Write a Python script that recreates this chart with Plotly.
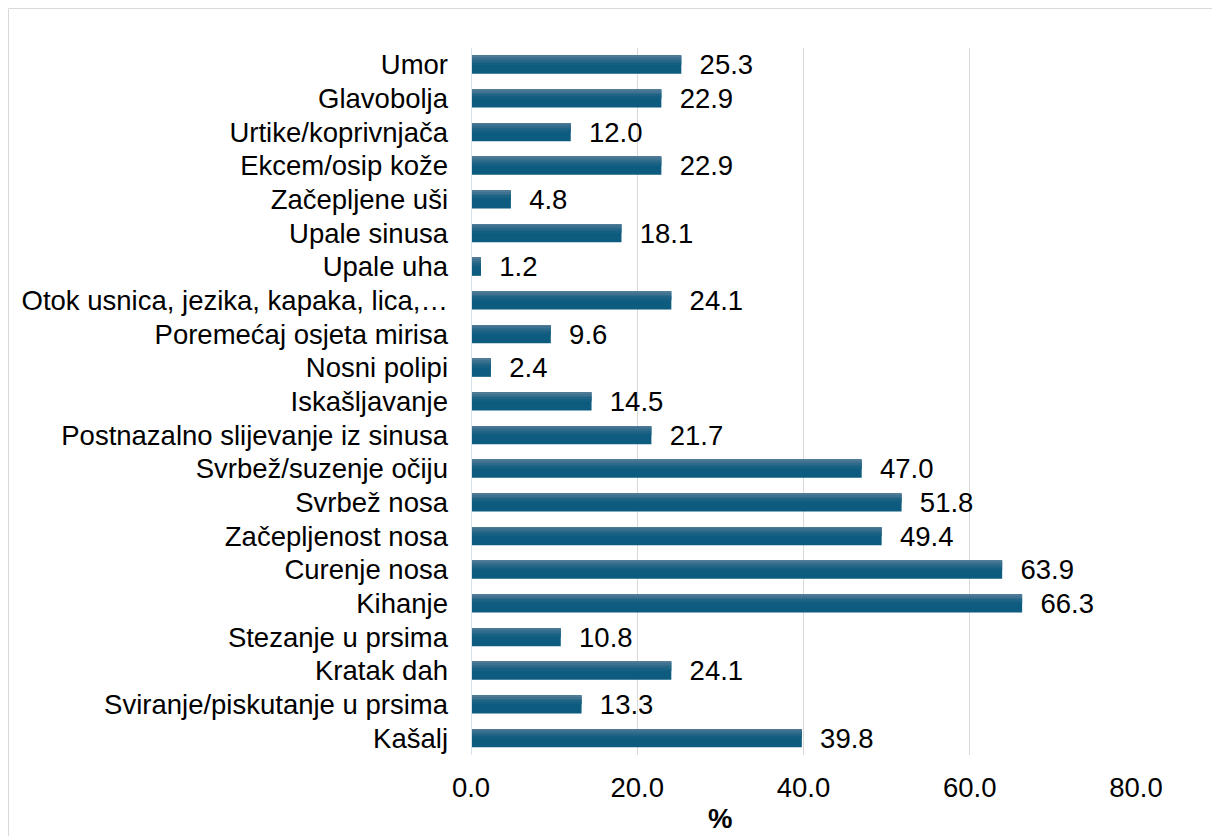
import plotly.graph_objects as go

categories = [
    "Umor", "Glavobolja", "Urtike/koprivnjača", "Ekcem/osip kože", "Začepljene uši",
    "Upale sinusa", "Upale uha", "Otok usnica, jezika, kapaka, lica,…",
    "Poremećaj osjeta mirisa", "Nosni polipi", "Iskašljavanje",
    "Postnazalno slijevanje iz sinusa", "Svrbež/suzenje očiju", "Svrbež nosa",
    "Začepljenost nosa", "Curenje nosa", "Kihanje", "Stezanje u prsima",
    "Kratak dah", "Sviranje/piskutanje u prsima", "Kašalj",
]
values = [25.3, 22.9, 12.0, 22.9, 4.8, 18.1, 1.2, 24.1, 9.6, 2.4, 14.5,
          21.7, 47.0, 51.8, 49.4, 63.9, 66.3, 10.8, 24.1, 13.3, 39.8]
x_ticks = [0, 20, 40, 60, 80]

W, H = 1220, 836
L, R, T, B = 463, 92, 40, 89
pw, ph = W - L - R, H - T - B
FONT = "Liberation Sans, Arial, sans-serif"
FS = 27.5
BAR_W = 0.535

fig = go.Figure()
# base bar with labels
fig.add_trace(go.Bar(
    y=categories, x=values, orientation="h",
    marker=dict(color="#0D5B7F", line=dict(width=0)),
    width=BAR_W,
    text=[f"{v:.1f}" for v in values],
    texttemplate="  %{text}",
    textposition="outside",
    constraintext="none",
    textfont=dict(family=FONT, size=FS, color="#000000"),
    cliponaxis=False,
    hoverinfo="x+y",
))
# lighter bands at the top of each bar to imitate the gradient fill
band_colors = ["#4F7B97", "#3F7290", "#2E6A8A", "#1F6385", "#155F82"]
nb = 10
for i, c in enumerate(band_colors):
    fig.add_trace(go.Bar(
        y=categories, x=values, orientation="h",
        marker=dict(color=c, line=dict(width=0)),
        width=BAR_W / nb, offset=-BAR_W / 2 + i * BAR_W / nb,
        hoverinfo="skip", cliponaxis=False,
    ))

fig.update_layout(
    width=W, height=H,
    barmode="overlay",
    margin=dict(l=L, r=R, t=T, b=B, pad=0),
    paper_bgcolor="white", plot_bgcolor="white",
    font=dict(family=FONT, size=FS, color="#000000"),
    showlegend=False,
    xaxis=dict(
        range=[0, 80], tickvals=x_ticks,
        ticktext=[f"{t:.1f}" for t in x_ticks],
        showgrid=True, gridcolor="#D9D9D9", gridwidth=1,
        zeroline=False, showline=False, ticks="",
        tickfont=dict(size=FS), ticklabelstandoff=13,
    ),
    yaxis=dict(
        autorange="reversed", showgrid=False, zeroline=False,
        showline=False, ticks="", ticklabelstandoff=22,
        tickfont=dict(size=FS),
    ),
    annotations=[
        dict(text="<b>%</b>", xref="paper", yref="paper",
             x=(720 - 471) / 665, y=-(818 - 8 - (H - B)) / ph,
             xanchor="center", yanchor="middle", showarrow=False,
             font=dict(family=FONT, size=FS, color="#000000")),
    ],
    shapes=[
        dict(type="rect", xref="paper", yref="paper",
             x0=(-L + 0.5) / pw, x1=1 + (R + 5) / pw,
             y0=-(B + 5) / ph, y1=1 + (T - 0.5) / ph,
             line=dict(color="#D9D9D9", width=1), fillcolor="rgba(0,0,0,0)",
             layer="below"),
        dict(type="line", xref="x", yref="paper", x0=0, x1=0, y0=0, y1=1,
             line=dict(color="#D5E3F0", width=2), layer="above"),
    ],
)

fig.write_html("out.html")
